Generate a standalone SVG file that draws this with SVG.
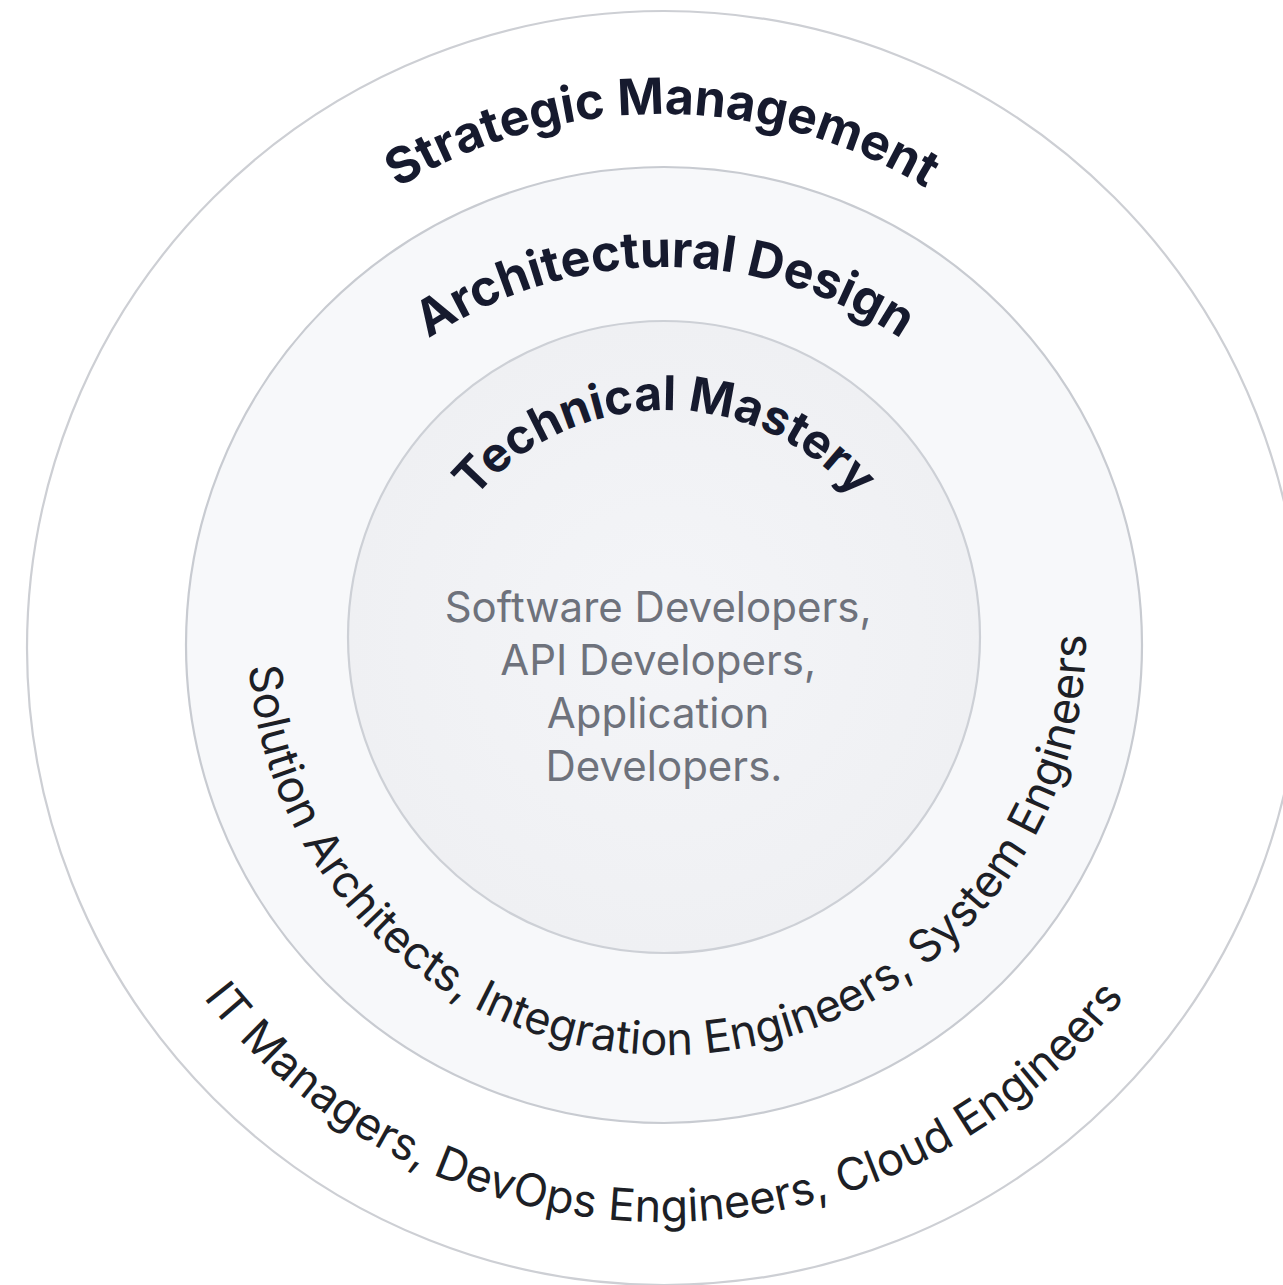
<svg xmlns="http://www.w3.org/2000/svg" width="1283" height="1285" viewBox="0 0 1283 1285">
  <style>
    .ring { stroke-width: 2.2; }
    .title { font-family: Inter, "Liberation Sans", sans-serif; font-weight: 700; font-size: 50px; fill: #161a2e; }
    .roles { font-family: Inter, "Liberation Sans", sans-serif; font-weight: 400; font-size: 45px; fill: #1d1f26; }
    .center { font-family: Inter, "Liberation Sans", sans-serif; font-weight: 400; font-size: 42px; fill: #6e727c; text-anchor: middle; }
  </style>
  <defs>
    <radialGradient id="innerFill" cx="50%" cy="50%" r="50%">
      <stop offset="0%" stop-color="#f4f5f8"/>
      <stop offset="100%" stop-color="#eff0f3"/>
    </radialGradient>
    <path id="arcStrategic" d="M 662,1130 A 508 508 0 0 1 662,114 A 508 508 0 0 1 662,1130"/>
    <path id="arcArchitectural" d="M 665,1117 A 425 425 0 0 1 665,267 A 425 425 0 0 1 665,1117"/>
    <path id="arcTechnical" d="M 665,910 A 250 250 0 0 1 665,410 A 250 250 0 0 1 665,910"/>
    <path id="arcMiddleRoles" d="M 667,217 A 419 419 0 0 0 667,1055 A 419 419 0 0 0 667,217"/>
    <path id="arcOuterRoles" d="M 664,52 A 585 585 0 0 0 664,1222 A 585 585 0 0 0 664,52"/>
  </defs>
  <rect width="1283" height="1285" fill="#ffffff"/>

  <g id="ring-strategic">
    <circle class="ring" cx="664" cy="648" r="637" fill="#ffffff" stroke="#cdcfd4"/>
    <text class="title"><textPath href="#arcStrategic" startOffset="50%" text-anchor="middle">Strategic Management</textPath></text>
    <text class="roles"><textPath href="#arcOuterRoles" startOffset="50%" text-anchor="middle">IT Managers, DevOps Engineers, Cloud Engineers</textPath></text>
  </g>

  <g id="ring-architectural">
    <circle class="ring" cx="664" cy="645" r="478" fill="#f7f8fa" stroke="#c8cbd1"/>
    <text class="title"><textPath href="#arcArchitectural" startOffset="50%" text-anchor="middle">Architectural Design</textPath></text>
    <text class="roles"><textPath href="#arcMiddleRoles" startOffset="50.6%" text-anchor="middle">Solution Architects, Integration Engineers, System Engineers</textPath></text>
  </g>

  <g id="ring-technical">
    <circle class="ring" cx="664" cy="637" r="316" fill="url(#innerFill)" stroke="#cdd0d6"/>
    <text class="title" style="font-size:48px"><textPath href="#arcTechnical" startOffset="50%" text-anchor="middle">Technical Mastery</textPath></text>
    <text class="center">
      <tspan x="664" y="622">Software Developers,</tspan>
      <tspan x="664" y="675">API Developers,</tspan>
      <tspan x="664" y="728">Application</tspan>
      <tspan x="664" y="781">Developers.</tspan>
    </text>
  </g>
</svg>
